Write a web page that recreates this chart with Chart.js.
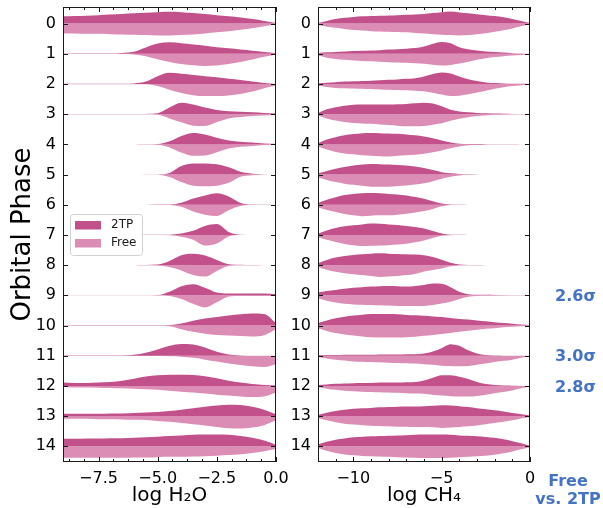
<!DOCTYPE html>
<html>
<head>
<meta charset="utf-8">
<script src="https://cdn.jsdelivr.net/npm/chart.js@4.4.1/dist/chart.umd.min.js"></script>
<style>
  html, body { margin: 0; padding: 0; background: #fff; }
  #wrap { position: relative; width: 603px; height: 508px; }
  .panel { position: absolute; top: 0; }
  #h2oBox { left: 0; }
  #ch4Box { left: 290px; }
</style>
</head>
<body>
<div id="wrap">
  <div class="panel" id="h2oBox"><canvas id="h2oChart" width="290" height="508"></canvas></div>
  <div class="panel" id="ch4Box"><canvas id="ch4Chart" width="313" height="508"></canvas></div>
</div>
<script>
// orbital phases (one split violin per phase)
const phases = [0, 1, 2, 3, 4, 5, 6, 7, 8, 9, 10, 11, 12, 13, 14];
const seriesNames = ['2TP', 'Free'];
const seriesColors = ['#C2508B', '#DC8DB5'];

// abundance grids the posterior densities are sampled on
const h2oGrid = [-9, -8.5, -8, -7.5, -7, -6.5, -6, -5.5, -5, -4.5, -4, -3.5, -3, -2.5, -2, -1.5, -1, -0.5, 0];
const ch4Grid = [-12, -11.5, -11, -10.5, -10, -9.5, -9, -8.5, -8, -7.5, -7, -6.5, -6, -5.5, -5, -4.5, -4, -3.5, -3, -2.5, -2, -1.5, -1, -0.5, 0];

// half-violin widths (in phase units), one row per phase
const h2oTwoTP = [
  [0.24,0.25,0.26,0.28,0.30,0.32,0.34,0.36,0.38,0.39,0.38,0.35,0.32,0.28,0.24,0.20,0.15,0.09,0.02],
  [0.01,0.01,0.01,0.01,0.01,0.03,0.07,0.21,0.34,0.38,0.35,0.31,0.27,0.22,0.18,0.14,0.10,0.06,0.02],
  [0.01,0.01,0.01,0.01,0.01,0.01,0.02,0.08,0.26,0.37,0.34,0.30,0.26,0.22,0.17,0.13,0.08,0.03,0],
  [0.003,0.003,0.003,0.003,0.003,0.003,0.005,0.01,0.03,0.22,0.38,0.32,0.22,0.14,0.10,0.08,0.06,0.04,0.02],
  [0,0,0,0,0,0,0,0.004,0.01,0.10,0.28,0.38,0.33,0.22,0.13,0.09,0.06,0.03,0.02],
  [0,0,0,0,0,0,0,0.003,0.005,0.05,0.28,0.37,0.37,0.34,0.24,0.09,0.03,0.005,0],
  [0,0,0,0,0,0,0,0.003,0.005,0.01,0.07,0.21,0.31,0.38,0.27,0.06,0.01,0.005,0],
  [0,0,0,0,0,0,0,0.003,0.003,0.01,0.05,0.14,0.30,0.36,0.10,0.005,0,0,0],
  [0,0,0,0,0,0,0,0.005,0.02,0.14,0.33,0.38,0.32,0.17,0.03,0.01,0.003,0,0],
  [0.003,0.003,0.003,0.003,0.003,0.003,0.003,0.005,0.01,0.12,0.30,0.37,0.25,0.09,0.06,0.06,0.06,0.06,0.04],
  [0.01,0.01,0.01,0.01,0.01,0.01,0.01,0.01,0.01,0.02,0.07,0.16,0.23,0.28,0.33,0.37,0.40,0.38,0.08],
  [0.01,0.01,0.01,0.01,0.01,0.01,0.03,0.10,0.21,0.33,0.39,0.37,0.27,0.13,0.04,0.01,0,0,0],
  [0.11,0.10,0.10,0.11,0.13,0.17,0.24,0.31,0.35,0.37,0.37,0.36,0.32,0.25,0.17,0.11,0.06,0.03,0.01],
  [0.08,0.08,0.08,0.08,0.09,0.09,0.10,0.12,0.14,0.17,0.21,0.26,0.31,0.35,0.38,0.37,0.31,0.21,0.06],
  [0.25,0.25,0.26,0.26,0.27,0.27,0.28,0.30,0.32,0.34,0.36,0.38,0.39,0.39,0.38,0.34,0.28,0.19,0.05]
];
const h2oFree = [
  [0.33,0.33,0.34,0.34,0.35,0.36,0.37,0.38,0.39,0.39,0.38,0.36,0.33,0.29,0.25,0.20,0.15,0.09,0.02],
  [0.01,0.01,0.01,0.01,0.01,0.01,0.02,0.08,0.18,0.27,0.34,0.38,0.40,0.39,0.34,0.27,0.19,0.10,0.02],
  [0.01,0.01,0.01,0.01,0.01,0.01,0.01,0.01,0.07,0.19,0.30,0.37,0.40,0.40,0.38,0.33,0.25,0.14,0.05],
  [0.003,0.003,0.003,0.003,0.003,0.003,0.003,0.005,0.02,0.14,0.27,0.38,0.39,0.26,0.14,0.09,0.06,0.04,0.03],
  [0,0,0,0,0,0,0,0.003,0.01,0.10,0.27,0.38,0.37,0.26,0.14,0.08,0.05,0.02,0.01],
  [0,0,0,0,0,0,0,0.003,0.005,0.08,0.25,0.37,0.39,0.37,0.27,0.07,0.02,0.005,0],
  [0,0,0,0,0,0,0,0.003,0.005,0.01,0.07,0.22,0.33,0.37,0.18,0.04,0.01,0.003,0],
  [0,0,0,0,0,0,0,0.003,0.003,0.01,0.06,0.16,0.35,0.28,0.05,0.005,0,0,0],
  [0,0,0,0,0,0,0,0.003,0.01,0.06,0.18,0.33,0.38,0.19,0.03,0.005,0,0,0],
  [0.003,0.003,0.003,0.003,0.003,0.003,0.003,0.003,0.005,0.02,0.12,0.28,0.40,0.23,0.04,0.02,0.02,0.02,0.01],
  [0.005,0.005,0.005,0.005,0.005,0.005,0.005,0.005,0.005,0.02,0.12,0.21,0.27,0.31,0.33,0.35,0.36,0.32,0.12],
  [0.01,0.01,0.01,0.01,0.01,0.01,0.01,0.01,0.01,0.02,0.03,0.07,0.13,0.19,0.26,0.31,0.35,0.37,0.28],
  [0.04,0.05,0.05,0.06,0.07,0.08,0.09,0.11,0.13,0.16,0.19,0.22,0.25,0.29,0.32,0.35,0.37,0.35,0.22],
  [0.09,0.09,0.09,0.10,0.10,0.11,0.12,0.13,0.16,0.19,0.23,0.27,0.31,0.36,0.40,0.41,0.38,0.30,0.14],
  [0.38,0.38,0.38,0.38,0.38,0.38,0.37,0.37,0.36,0.35,0.35,0.34,0.33,0.31,0.29,0.26,0.22,0.16,0.09]
];
const ch4TwoTP = [
  [0.02,0.09,0.15,0.19,0.22,0.24,0.25,0.26,0.27,0.28,0.29,0.30,0.32,0.35,0.38,0.40,0.37,0.34,0.31,0.28,0.25,0.21,0.15,0.09,0.02],
  [0.03,0.05,0.06,0.08,0.09,0.10,0.11,0.12,0.14,0.15,0.17,0.19,0.24,0.33,0.39,0.35,0.22,0.15,0.11,0.08,0.06,0.04,0.02,0.01,0],
  [0.02,0.04,0.06,0.08,0.09,0.10,0.11,0.12,0.14,0.15,0.17,0.19,0.25,0.33,0.38,0.35,0.25,0.16,0.10,0.05,0.03,0.02,0.01,0.005,0],
  [0.04,0.16,0.23,0.28,0.31,0.32,0.32,0.32,0.32,0.33,0.34,0.36,0.38,0.35,0.26,0.15,0.09,0.06,0.04,0.03,0.02,0.015,0.01,0.005,0],
  [0.04,0.16,0.24,0.30,0.34,0.37,0.38,0.37,0.36,0.35,0.33,0.30,0.26,0.20,0.13,0.06,0.02,0.01,0.01,0.005,0.005,0.005,0.003,0,0],
  [0.04,0.12,0.19,0.25,0.30,0.33,0.35,0.34,0.33,0.32,0.30,0.27,0.22,0.15,0.08,0.04,0.02,0.01,0.005,0.003,0,0,0,0,0],
  [0.06,0.17,0.25,0.32,0.36,0.38,0.39,0.38,0.36,0.34,0.31,0.26,0.20,0.12,0.04,0.01,0.005,0.002,0,0,0,0,0,0,0],
  [0.04,0.15,0.23,0.29,0.32,0.35,0.38,0.37,0.35,0.33,0.30,0.26,0.21,0.13,0.05,0.01,0.005,0.002,0,0,0,0,0,0,0],
  [0.06,0.17,0.25,0.30,0.34,0.36,0.38,0.39,0.38,0.37,0.36,0.35,0.33,0.27,0.18,0.08,0.02,0.005,0.002,0,0,0,0,0,0],
  [0.09,0.14,0.18,0.22,0.25,0.27,0.29,0.30,0.31,0.30,0.29,0.31,0.34,0.39,0.38,0.27,0.12,0.04,0.02,0.02,0.015,0.015,0.01,0.01,0.01],
  [0.08,0.17,0.24,0.29,0.33,0.36,0.38,0.38,0.38,0.37,0.35,0.34,0.32,0.30,0.28,0.25,0.22,0.20,0.17,0.14,0.11,0.08,0.06,0.03,0.01],
  [0.02,0.02,0.02,0.03,0.03,0.03,0.03,0.04,0.04,0.04,0.05,0.05,0.07,0.14,0.25,0.38,0.33,0.18,0.07,0.02,0.005,0,0,0,0],
  [0.03,0.05,0.07,0.08,0.09,0.10,0.10,0.11,0.11,0.11,0.12,0.13,0.18,0.27,0.35,0.35,0.30,0.23,0.13,0.06,0.03,0.01,0.005,0,0],
  [0.04,0.11,0.17,0.21,0.24,0.26,0.27,0.29,0.30,0.31,0.32,0.32,0.33,0.34,0.36,0.35,0.33,0.30,0.26,0.23,0.19,0.15,0.10,0.06,0.02],
  [0.06,0.15,0.22,0.26,0.30,0.32,0.33,0.34,0.35,0.36,0.37,0.38,0.39,0.39,0.39,0.38,0.36,0.35,0.33,0.31,0.28,0.23,0.17,0.10,0.02]
];
const ch4Free = [
  [0.05,0.10,0.14,0.18,0.21,0.23,0.25,0.26,0.27,0.28,0.29,0.31,0.33,0.35,0.37,0.38,0.39,0.38,0.35,0.32,0.27,0.22,0.16,0.09,0.02],
  [0.06,0.13,0.17,0.20,0.22,0.24,0.25,0.26,0.28,0.29,0.30,0.31,0.33,0.36,0.39,0.37,0.32,0.26,0.20,0.15,0.11,0.08,0.06,0.04,0.02],
  [0.05,0.10,0.13,0.14,0.15,0.16,0.17,0.18,0.19,0.20,0.21,0.22,0.24,0.29,0.35,0.40,0.39,0.34,0.28,0.22,0.16,0.11,0.07,0.04,0.02],
  [0.04,0.14,0.21,0.26,0.29,0.31,0.32,0.34,0.36,0.38,0.40,0.40,0.39,0.35,0.30,0.22,0.15,0.10,0.06,0.04,0.02,0.015,0.01,0.005,0],
  [0.07,0.17,0.25,0.30,0.33,0.36,0.38,0.39,0.40,0.38,0.36,0.34,0.31,0.26,0.20,0.13,0.07,0.03,0.02,0.01,0.005,0.003,0,0,0],
  [0.09,0.18,0.25,0.30,0.34,0.37,0.40,0.40,0.40,0.38,0.36,0.33,0.29,0.22,0.14,0.07,0.03,0.01,0.005,0,0,0,0,0,0],
  [0.08,0.17,0.24,0.31,0.35,0.38,0.36,0.35,0.35,0.33,0.30,0.26,0.21,0.14,0.05,0.01,0.003,0,0,0,0,0,0,0,0],
  [0.07,0.16,0.23,0.30,0.34,0.37,0.36,0.35,0.34,0.32,0.29,0.24,0.18,0.10,0.03,0.01,0,0,0,0,0,0,0,0,0],
  [0.06,0.15,0.22,0.27,0.30,0.33,0.36,0.39,0.38,0.36,0.33,0.29,0.21,0.16,0.11,0.04,0.01,0,0,0,0,0,0,0,0],
  [0.10,0.18,0.24,0.28,0.30,0.31,0.32,0.33,0.34,0.35,0.35,0.35,0.35,0.32,0.27,0.21,0.12,0.05,0.02,0.01,0.01,0.005,0,0,0],
  [0.09,0.18,0.25,0.30,0.33,0.36,0.39,0.40,0.40,0.40,0.39,0.37,0.34,0.31,0.28,0.25,0.21,0.17,0.14,0.11,0.09,0.06,0.04,0.02,0.01],
  [0.04,0.09,0.13,0.16,0.19,0.20,0.21,0.22,0.23,0.24,0.25,0.26,0.28,0.30,0.33,0.34,0.35,0.34,0.30,0.26,0.21,0.17,0.13,0.07,0.02],
  [0.04,0.09,0.13,0.16,0.18,0.19,0.20,0.21,0.22,0.23,0.24,0.25,0.26,0.29,0.32,0.34,0.35,0.35,0.33,0.29,0.24,0.20,0.15,0.08,0.02],
  [0.07,0.14,0.20,0.25,0.28,0.30,0.32,0.33,0.34,0.35,0.35,0.36,0.36,0.37,0.39,0.38,0.36,0.34,0.31,0.27,0.23,0.19,0.14,0.08,0.03],
  [0.06,0.15,0.22,0.27,0.30,0.32,0.33,0.34,0.35,0.36,0.37,0.38,0.39,0.39,0.39,0.38,0.36,0.35,0.33,0.31,0.28,0.23,0.17,0.10,0.03]
];

// axis ticks
const h2oTicks = [-7.5, -5, -2.5, 0];
const ch4Ticks = [-10, -5, 0];

// significance of 2TP over the free retrieval, per phase
const sigmaPhases = [9, 11, 12];
const sigmaValues = [2.6, 3.0, 2.8];
const noteLines = ['Free', 'vs. 2TP'];

Chart.defaults.font.family = "'DejaVu Sans', sans-serif";
Chart.defaults.color = '#000';

const INK = '#1a1a1a';

function minus(s) {
  return s.replace('-', '\u2212');
}

// one pair of filled half-violins per phase, filled towards the phase line
function violinSets(grid, upper, lower) {
  const sets = [];
  phases.forEach((p, i) => {
    sets.push({
      label: seriesNames[0],
      data: grid.map((x, j) => ({ x: x, y: p - upper[i][j] })),
      fill: { value: p },
      backgroundColor: seriesColors[0],
      borderColor: 'transparent',
      borderWidth: 0,
      pointRadius: 0,
      cubicInterpolationMode: 'monotone'
    });
    sets.push({
      label: seriesNames[1],
      data: grid.map((x, j) => ({ x: x, y: p + lower[i][j] })),
      fill: { value: p },
      backgroundColor: seriesColors[1],
      borderColor: 'transparent',
      borderWidth: 0,
      pointRadius: 0,
      cubicInterpolationMode: 'monotone'
    });
  });
  return sets;
}

// matplotlib-like frame with inward ticks
const frameTicks = {
  id: 'frameTicks',
  afterDatasetsDraw(chart, args, opts) {
    const { ctx, chartArea: a, scales: { x, y } } = chart;
    ctx.save();
    ctx.strokeStyle = INK;
    ctx.lineWidth = 1;
    ctx.beginPath();
    phases.forEach(p => {
      const py = Math.round(y.getPixelForValue(p)) + 0.5;
      ctx.moveTo(a.left, py); ctx.lineTo(a.left + 5, py);
      ctx.moveTo(a.right, py); ctx.lineTo(a.right - 5, py);
    });
    const mark = (v, len) => {
      const px = Math.round(x.getPixelForValue(v)) + 0.5;
      ctx.moveTo(px, a.top); ctx.lineTo(px, a.top + len);
      ctx.moveTo(px, a.bottom); ctx.lineTo(px, a.bottom - len);
    };
    for (let v = 0; v >= x.min - 1e-6; v -= opts.minorStep) mark(v, 3);
    opts.major.forEach(v => mark(v, 5));
    ctx.stroke();
    ctx.strokeRect(Math.round(a.left) + 0.5, Math.round(a.top) + 0.5,
      Math.round(a.right) - Math.round(a.left) - 1, Math.round(a.bottom) - Math.round(a.top) - 1);
    ctx.restore();
  }
};

const legendBox = {
  id: 'legendBox',
  afterDraw(chart) {
    if (chart.canvas.id !== 'h2oChart') return;
    const { ctx, chartArea: a } = chart;
    const x0 = a.left + 7, y0 = a.top + 207;
    ctx.save();
    ctx.fillStyle = 'rgba(255,255,255,0.85)';
    ctx.strokeStyle = '#d0d0d0';
    ctx.lineWidth = 1;
    ctx.beginPath();
    ctx.roundRect(x0 + 0.5, y0 + 0.5, 72, 41, 3);
    ctx.fill();
    ctx.stroke();
    ctx.font = "12px 'DejaVu Sans'";
    ctx.textBaseline = 'middle';
    seriesNames.forEach((name, i) => {
      const cy = y0 + 11 + i * 18;
      ctx.fillStyle = seriesColors[i];
      ctx.fillRect(x0 + 5, cy - 4, 26, 8.5);
      ctx.fillStyle = INK;
      ctx.fillText(name, x0 + 41, cy);
    });
    ctx.restore();
  }
};

const sigmaNotes = {
  id: 'sigmaNotes',
  afterDraw(chart) {
    if (chart.canvas.id !== 'ch4Chart') return;
    const { ctx, chartArea: a, scales: { y } } = chart;
    ctx.save();
    ctx.fillStyle = '#4472C4';
    ctx.font = "bold 16px 'DejaVu Sans'";
    ctx.textAlign = 'center';
    ctx.textBaseline = 'middle';
    sigmaPhases.forEach((p, i) => {
      ctx.fillText(sigmaValues[i].toFixed(1) + '\u03c3', a.right + 45.5, y.getPixelForValue(p) + 1.5);
    });
    noteLines.forEach((t, i) => {
      ctx.fillText(t, a.right + 38, a.bottom + 19.5 + i * 18);
    });
    ctx.restore();
  }
};

function makePanel(id, grid, upper, lower, opts) {
  const ctx = document.getElementById(id).getContext('2d');
  return new Chart(ctx, {
    type: 'line',
    data: { datasets: violinSets(grid, upper, lower) },
    options: {
      responsive: false,
      animation: false,
      events: [],
      layout: { padding: { top: 7, right: opts.padRight, bottom: 0, left: 0 } },
      plugins: {
        legend: { display: false },
        tooltip: { enabled: false },
        frameTicks: { major: opts.ticks, minorStep: opts.minorStep }
      },
      scales: {
        x: {
          type: 'linear',
          min: grid[0],
          max: 0,
          afterBuildTicks: s => { s.ticks = opts.ticks.map(v => ({ value: v })); },
          afterFit: s => { s.height = 46; s.paddingLeft = 0; s.paddingRight = 0; },
          grid: { display: false, drawTicks: false },
          border: { display: false },
          ticks: {
            autoSkip: false,
            maxRotation: 0,
            padding: 7,
            font: { size: 16 },
            callback: v => minus(opts.fmt(v))
          },
          title: {
            display: true,
            text: opts.xTitle,
            font: { size: 20 },
            padding: { top: 0, bottom: 0 }
          }
        },
        y: {
          type: 'linear',
          min: -0.55,
          max: 14.52,
          reverse: true,
          afterBuildTicks: s => { s.ticks = phases.map(v => ({ value: v })); },
          afterFit: s => { s.width = opts.yWidth; s.paddingTop = 0; s.paddingBottom = 0; },
          grid: { display: false, drawTicks: false },
          border: { display: false },
          ticks: { autoSkip: false, padding: 7, font: { size: 16 } },
          title: {
            display: opts.yTitle !== '',
            text: opts.yTitle,
            font: { size: 26 },
            padding: { top: 8, bottom: 0 }
          }
        }
      }
    },
    plugins: [frameTicks, legendBox, sigmaNotes]
  });
}

makePanel('h2oChart', h2oGrid, h2oTwoTP, h2oFree, {
  padRight: 14,
  yWidth: 63,
  ticks: h2oTicks,
  minorStep: 0.625,
  fmt: v => v.toFixed(1),
  xTitle: 'log H\u2082O',
  yTitle: 'Orbital Phase'
});

makePanel('ch4Chart', ch4Grid, ch4TwoTP, ch4Free, {
  padRight: 73,
  yWidth: 28,
  ticks: ch4Ticks,
  minorStep: 1,
  fmt: v => String(v),
  xTitle: 'log CH\u2084',
  yTitle: ''
});
</script>
</body>
</html>
